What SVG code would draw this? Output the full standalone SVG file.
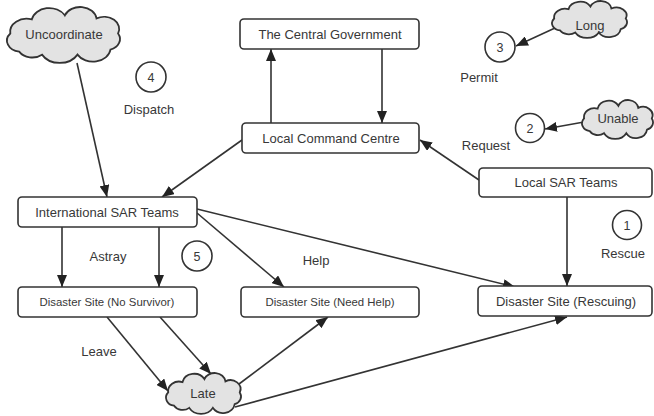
<svg xmlns="http://www.w3.org/2000/svg" width="654" height="416" viewBox="0 0 654 416">
<style>
  text { font-family: "Liberation Sans", Arial, sans-serif; fill: #383838; text-anchor: middle; }
  .t13 { font-size: 13px; }
  .t11 { font-size: 11.4px; }
  .t12 { font-size: 12.5px; }
  .box { fill: #ffffff; stroke: #333333; stroke-width: 1.6; }
  .circ { fill: #ffffff; stroke: #333333; stroke-width: 1.6; }
  .cloud { fill: #e3e3e3; stroke: #333333; stroke-width: 1.8; vector-effect: non-scaling-stroke; }
  .edge { fill: none; stroke: #333333; stroke-width: 1.6; marker-end: url(#arr); }
</style>
<defs>
  <marker id="arr" markerUnits="userSpaceOnUse" markerWidth="12" markerHeight="10" viewBox="0 0 12 10" refX="12" refY="5" orient="auto">
    <path d="M0,0 L12,5 L0,10 Z" fill="#222222"/>
  </marker>
  <path id="cloudShape" class="cloud" d="M14,42 A11,11 0 0 1 7,24 A13,13 0 0 1 24,10 A14,14 0 0 1 50,6 A13,13 0 0 1 75,9 A12,12 0 0 1 92,24 A11,11 0 0 1 86,40 A14,14 0 0 1 60,45 A16,16 0 0 1 32,45 A12,12 0 0 1 14,42 Z"/>
</defs>

<g id="connectors">
  <path class="edge" d="M271,123 L271,49"/>
  <path class="edge" d="M382,49 L382,123"/>
  <path class="edge" d="M479,180 L420,140"/>
  <path class="edge" d="M242,140 L162,197"/>
  <path class="edge" d="M77,63 L107,197"/>
  <path class="edge" d="M555,28 L516,46"/>
  <path class="edge" d="M584,122 L545,129"/>
  <path class="edge" d="M62,227 L62,287"/>
  <path class="edge" d="M159,227 L159,287"/>
  <path class="edge" d="M197,213 L284,287"/>
  <path class="edge" d="M197,209 L515,287"/>
  <path class="edge" d="M567,197 L567,286"/>
  <path class="edge" d="M107,317 L168,391"/>
  <path class="edge" d="M160,317 L211,374"/>
  <path class="edge" d="M239,384 L328,317"/>
  <path class="edge" d="M235,407 L567,317"/>
</g>

<g id="cg">
  <rect class="box" x="240" y="19" width="179" height="30" rx="4"/>
  <text class="t13" x="330" y="38.5">The Central Government</text>
</g>
<g id="lcc">
  <rect class="box" x="242" y="123" width="177" height="30" rx="4"/>
  <text class="t13" x="331" y="142.5">Local Command Centre</text>
</g>
<g id="localsar">
  <rect class="box" x="479" y="168" width="173" height="29" rx="4"/>
  <text class="t13" x="566" y="187">Local SAR Teams</text>
</g>
<g id="intlsar">
  <rect class="box" x="18" y="197" width="179" height="30" rx="4"/>
  <text class="t13" x="107" y="216.5">International SAR Teams</text>
</g>
<g id="nosurvivor">
  <rect class="box" x="18" y="287" width="179" height="30" rx="4"/>
  <text class="t11" x="107" y="306">Disaster Site (No Survivor)</text>
</g>
<g id="needhelp">
  <rect class="box" x="241" y="287" width="178" height="30" rx="4"/>
  <text class="t11" x="330" y="306">Disaster Site (Need Help)</text>
</g>
<g id="rescuing">
  <rect class="box" x="478" y="286" width="174" height="30" rx="4"/>
  <text class="t13" x="566" y="305.5">Disaster Site (Rescuing)</text>
</g>

<g id="uncoordinate">
  <use href="#cloudShape" transform="translate(7,7) scale(1.268,1.007) translate(-4.4,2.3)"/>
  <text class="t13" x="64" y="39">Uncoordinate</text>
</g>
<g id="long">
  <use href="#cloudShape" transform="translate(552,1) scale(0.842,0.665) translate(-4.4,2.3)"/>
  <text class="t13" x="590" y="29.5">Long</text>
</g>
<g id="unable">
  <use href="#cloudShape" transform="translate(582,100) scale(0.797,0.701) translate(-4.4,2.3)"/>
  <text class="t13" x="618" y="123">Unable</text>
</g>
<g id="late">
  <use href="#cloudShape" transform="translate(166,373) scale(0.842,0.737) translate(-4.4,2.3)"/>
  <text class="t13" x="203" y="397.5">Late</text>
</g>

<g id="step4">
  <circle class="circ" cx="151" cy="77" r="15"/>
  <text class="t12" x="151" y="81.5">4</text>
  <text class="t13" x="149" y="113.5">Dispatch</text>
</g>
<g id="step3">
  <circle class="circ" cx="500" cy="47" r="15"/>
  <text class="t12" x="500" y="51.5">3</text>
  <text class="t13" x="479" y="81.5">Permit</text>
</g>
<g id="step2">
  <circle class="circ" cx="530" cy="128" r="14.5"/>
  <text class="t12" x="530" y="132.5">2</text>
  <text class="t13" x="486" y="149.5">Request</text>
</g>
<g id="step1">
  <circle class="circ" cx="627" cy="225" r="14.5"/>
  <text class="t12" x="627" y="229.5">1</text>
  <text class="t13" x="623" y="257.5">Rescue</text>
</g>
<g id="step5">
  <circle class="circ" cx="197" cy="256" r="15"/>
  <text class="t12" x="197" y="260.5">5</text>
  <text class="t13" x="108" y="260.5">Astray</text>
</g>
<g id="labels">
  <text class="t13" x="316" y="264.5">Help</text>
  <text class="t13" x="99" y="355.5">Leave</text>
</g>
</svg>
